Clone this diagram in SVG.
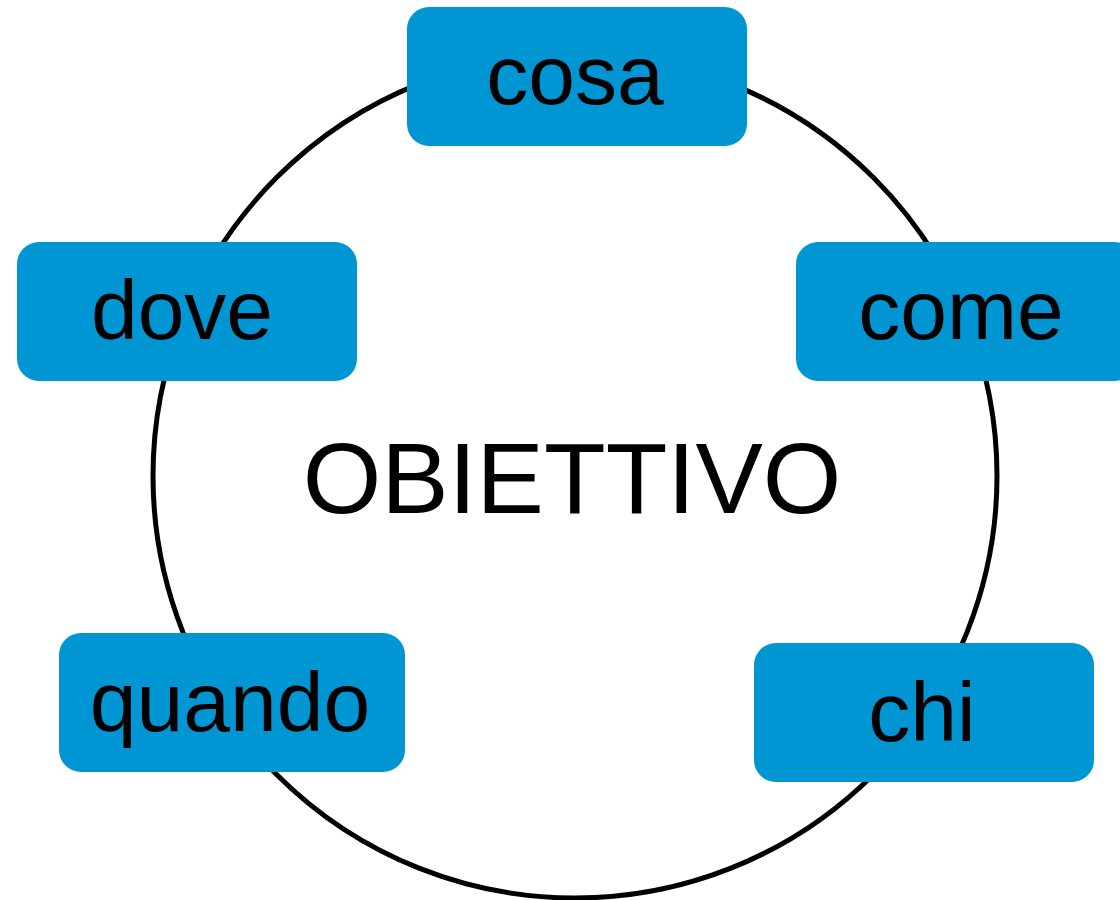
<svg xmlns="http://www.w3.org/2000/svg" width="1120" height="900" viewBox="0 0 1120 900">
<style>
.box{fill:#0096D3;}
.lbl{font-family:"Liberation Sans",Arial,sans-serif;font-size:84px;fill:#000;text-anchor:middle;}
.center{font-family:"Liberation Sans",Arial,sans-serif;font-size:101px;fill:#000;text-anchor:middle;}
</style>
<rect width="1120" height="900" fill="#fff"/>
<g id="connectors">
<circle cx="575" cy="476" r="422" fill="none" stroke="#000" stroke-width="5"/>
</g>
<g id="obiettivo"><text class="center" x="572" y="513">OBIETTIVO</text></g>
<g id="cosa"><rect class="box" x="407" y="7" width="340" height="139" rx="22"/><text class="lbl" x="575" y="104">cosa</text></g>
<g id="dove"><rect class="box" x="17" y="242" width="340" height="139" rx="22"/><text class="lbl" x="182" y="339">dove</text></g>
<g id="come"><rect class="box" x="796" y="242" width="340" height="139" rx="22"/><text class="lbl" x="961" y="339">come</text></g>
<g id="quando"><rect class="box" x="59" y="633" width="346" height="139" rx="22"/><text class="lbl" x="230" y="731">quando</text></g>
<g id="chi"><rect class="box" x="754" y="643" width="340" height="139" rx="22"/><text class="lbl" x="922" y="741">chi</text></g>
</svg>
